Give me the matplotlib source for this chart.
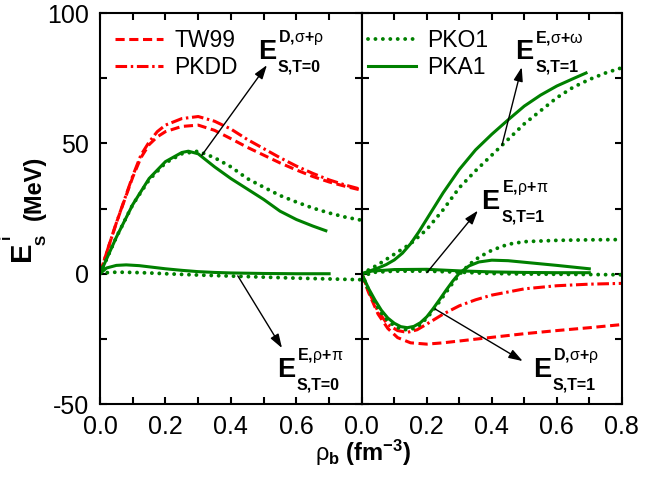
import numpy as np
import matplotlib
matplotlib.use("Agg")
import matplotlib.pyplot as plt
from matplotlib.transforms import offset_copy

plt.rcParams['font.family'] = ['Liberation Sans', 'DejaVu Sans']
plt.rcParams['mathtext.fontset'] = 'custom'
plt.rcParams['mathtext.rm'] = 'Liberation Sans'
plt.rcParams['mathtext.bf'] = 'Liberation Sans:bold'
plt.rcParams['mathtext.it'] = 'Liberation Sans:italic'
plt.rcParams['axes.linewidth'] = 1.5

RED = '#ff0000'
GREEN = '#008000'

# ---- left panel, T=0 ----
x_red_d0 = [0, 0.02, 0.05, 0.1, 0.125, 0.15, 0.175, 0.2, 0.25, 0.3, 0.35, 0.4, 0.45, 0.5, 0.55,
            0.6, 0.65, 0.7, 0.75, 0.8]
tw99_d0 = [0, 8, 19.5, 37, 44.5, 49.5, 52.5, 54.5, 56.5, 57, 55, 51.8, 48.5, 45.5, 42.5,
           39.8, 37.3, 35.2, 33.5, 32]
pkdd_d0 = [0, 8, 19.5, 37.5, 45.5, 50.5, 54.5, 57, 59.5, 60.3, 58.5, 55.5, 51.5, 48, 44.5,
           41.3, 38.5, 36, 34, 32.3]
x_pko1_d0 = [0, 0.02, 0.05, 0.1, 0.15, 0.2, 0.25, 0.3, 0.35, 0.4, 0.45, 0.5, 0.55, 0.6, 0.65, 0.7, 0.75, 0.8]
pko1_d0 = [0, 5.5, 14, 26.5, 36, 42.5, 46, 47, 44.5, 41, 36.5, 33.2, 30, 27.5, 25.2, 23.3, 21.7, 20.5]
x_pka1_d0 = [0, 0.05, 0.1, 0.15, 0.2, 0.25, 0.27, 0.3, 0.35, 0.4, 0.45, 0.5, 0.55, 0.6, 0.65, 0.69]
pka1_d0 = [0, 14, 26.5, 36.5, 43, 46.5, 47, 46, 41, 36.5, 32.5, 28.5, 24, 20.8, 18.3, 16.5]

x_pka1_e0 = [0, 0.02, 0.05, 0.08, 0.12, 0.16, 0.2, 0.25, 0.3, 0.35, 0.4, 0.5, 0.6, 0.7]
pka1_e0 = [0, 2.2, 3.2, 3.4, 3.1, 2.5, 1.9, 1.3, 0.8, 0.5, 0.3, 0.1, 0, 0]
x_pko1_e0 = [0, 0.02, 0.05, 0.1, 0.15, 0.2, 0.3, 0.4, 0.5, 0.6, 0.7, 0.8]
pko1_e0 = [0, 0.4, 0.6, 0.5, 0.3, 0, -0.5, -0.9, -1.3, -1.7, -2, -2.3]

# ---- right panel, T=1 ----
x_pka1_so = [0, 0.05, 0.075, 0.1, 0.125, 0.15, 0.175, 0.2, 0.25, 0.3, 0.35, 0.4, 0.45, 0.5, 0.55,
             0.6, 0.65, 0.69]
pka1_so = [0, 2.2, 3.5, 5.3, 7.9, 11.5, 16, 21, 31, 40, 47.5, 53.5, 59, 64.3, 68.5, 72, 74.8, 77]
x_pko1_so = [0, 0.05, 0.1, 0.15, 0.2, 0.25, 0.3, 0.35, 0.4, 0.45, 0.5, 0.55, 0.6, 0.65, 0.7, 0.75, 0.8]
pko1_so = [0, 3.5, 7.5, 11.5, 17, 24.5, 33, 39.5, 45.5, 51.5, 57.5, 62.5, 67.5, 71.5, 74.5, 77, 79]

x_pka1_e1 = [0, 0.03, 0.1, 0.2, 0.3, 0.4, 0.5, 0.6, 0.7]
pka1_e1 = [0, 1, 1.6, 1.7, 1.1, 0.7, 0.5, 0.4, 0.4]
x_pko1_e1 = [0, 0.03, 0.1, 0.2, 0.3, 0.4, 0.5, 0.6, 0.7, 0.8]
pko1_e1 = [-1.5, 0.5, 1, 1, 0.6, 0.1, -0.1, -0.2, -0.3, -0.4]

x_pka1_d1 = [0, 0.02, 0.04, 0.06, 0.08, 0.1, 0.12, 0.14, 0.16, 0.18, 0.2, 0.22, 0.24, 0.26, 0.28, 0.3,
             0.33, 0.36, 0.4, 0.45, 0.5, 0.6, 0.7]
pka1_d1 = [0, -5.5, -10, -14, -17, -19, -20.3, -20.7, -20.2, -18.8, -16.5, -13.3, -9.8, -6.2, -2.8, 0.2,
           3, 4.5, 5.2, 5, 4.4, 3.2, 1.9]
x_pko1_d1 = [0, 0.02, 0.04, 0.06, 0.08, 0.1, 0.12, 0.14, 0.16, 0.18, 0.2, 0.22, 0.24, 0.26, 0.28, 0.3,
             0.33, 0.36, 0.4, 0.45, 0.5, 0.6, 0.7, 0.8]
pko1_d1 = [0, -6, -11, -15, -18, -20, -21.2, -21.5, -21, -19.5, -17, -14, -10.5, -7, -3.5, -0.3,
           3.5, 6.3, 9, 11.3, 12.3, 12.8, 13, 13.1]

x_tw99_d1 = [0, 0.02, 0.05, 0.08, 0.11, 0.15, 0.2, 0.25, 0.3, 0.4, 0.5, 0.6, 0.7, 0.8]
tw99_d1 = [0, -7, -15.5, -21, -24.5, -26.5, -27, -26.5, -25.8, -24.4, -23, -21.8, -20.7, -19.5]
x_pkdd_d1 = [0, 0.02, 0.05, 0.08, 0.11, 0.14, 0.17, 0.2, 0.25, 0.3, 0.35, 0.4, 0.5, 0.6, 0.7, 0.8]
pkdd_d1 = [0, -6.5, -14.5, -19.5, -21.8, -22.5, -21.5, -19.3, -15.5, -12.3, -10, -8.2, -5.8, -4.6, -4, -3.7]

dash = dict(color=RED, lw=2.2, dashes=(3, 1.5))
dashdot = dict(color=RED, lw=2.2, dashes=(3.8, 1.2, 0.8, 1.2))
dot = dict(color=GREEN, lw=2.8, dashes=(0.01, 1.9), dash_capstyle='round')
solid = dict(color=GREEN, lw=2.2)

fig = plt.figure(figsize=(6.45, 4.91), dpi=100)
axL = fig.add_axes([0.155, 0.177, 0.406, 0.7965])
axR = fig.add_axes([0.561, 0.177, 0.403, 0.7965])

axL.plot(x_red_d0, tw99_d0, label='TW99', **dash)
axL.plot(x_red_d0, pkdd_d0, label='PKDD', **dashdot)
axL.plot(x_pko1_d0, pko1_d0, **dot)
axL.plot(x_pka1_d0, pka1_d0, **solid)
axL.plot(x_pko1_e0, pko1_e0, **dot)
axL.plot(x_pka1_e0, pka1_e0, **solid)

axR.plot(x_tw99_d1, tw99_d1, **dash)
axR.plot(x_pkdd_d1, pkdd_d1, **dashdot)
axR.plot(x_pko1_so, pko1_so, label='PKO1', **dot)
axR.plot(x_pka1_so, pka1_so, label='PKA1', **solid)
axR.plot(x_pko1_e1, pko1_e1, **dot)
axR.plot(x_pka1_e1, pka1_e1, **solid)
axR.plot(x_pko1_d1, pko1_d1, **dot)
axR.plot(x_pka1_d1, pka1_d1, **solid)

for ax in (axL, axR):
    ax.set_xlim(0, 0.8)
    ax.set_ylim(-50, 100)
    ax.set_yticks([-50, 0, 50, 100])
    ax.set_yticks([-25, 25, 75], minor=True)
    ax.tick_params(which='both', direction='in', top=True, right=True,
                   length=5, width=1.5, labelsize=18, pad=8)
axL.set_xticks([0, 0.2, 0.4, 0.6])
axL.set_xticks([0.1, 0.3, 0.5, 0.7], minor=True)
axL.set_xticklabels(['0.0', '0.2', '0.4', '0.6'])
axL.set_yticklabels(['-50', '0', '50', '100'])
axR.set_xticks([0, 0.2, 0.4, 0.6, 0.8])
axR.set_xticks([0.1, 0.3, 0.5, 0.7], minor=True)
axR.set_xticklabels(['0.0', '0.2', '0.4', '0.6', '0.8'])
axR.set_yticklabels([])

legkw = dict(loc='upper left', frameon=False, fontsize=16.5, borderaxespad=0, borderpad=0,
             handlelength=2.1, handletextpad=0.5, labelspacing=0.2)
axL.legend(bbox_to_anchor=(0.057, 0.96), **legkw)
axR.legend(bbox_to_anchor=(0.023, 0.96), **legkw)

arrow = dict(arrowstyle='-|>,head_length=0.6,head_width=0.2', color='k', lw=1.0,
             mutation_scale=14, shrinkA=0, shrinkB=0)
axL.annotate('', xy=(0.51, 80), xytext=(0.311, 45.4), arrowprops=arrow)
axL.annotate('', xy=(0.556, -28.5), xytext=(0.421, -0.8), arrowprops=arrow)
axR.annotate('', xy=(0.492, 79.2), xytext=(0.431, 49.2), arrowprops=arrow)
axR.annotate('', xy=(0.357, 24.2), xytext=(0.2, 0.4), arrowprops=arrow)
axR.annotate('', xy=(0.495, -33.5), xytext=(0.225, -13.5), arrowprops=arrow)


def elabel(ax, x, y, sup, sub):
    ax.text(x, y, 'E', fontsize=19.5, fontweight='bold', ha='left', va='baseline')
    t1 = offset_copy(ax.transData, fig=fig, x=14.5, y=12.3, units='points')
    ax.text(x, y, sup, transform=t1, fontsize=11.5, ha='left', va='baseline')
    t2 = offset_copy(ax.transData, fig=fig, x=14.5, y=-9, units='points')
    ax.text(x, y, sub, transform=t2, fontsize=11.5, fontweight='bold', ha='left', va='baseline')


elabel(axL, 0.482, 82.2, r'$\mathbf{D,}\!\mathrm{\sigma}\mathbf{+}\mathrm{\rho}$', 'S,T=0')
elabel(axL, 0.54, -39.8, r'$\mathbf{E,}\!\mathrm{\rho}\mathbf{+}\mathrm{\pi}$', 'S,T=0')
elabel(axR, 0.471, 82.3, r'$\mathbf{E,}\!\mathrm{\sigma}\mathbf{+}\mathrm{\omega}$', 'S,T=1')
elabel(axR, 0.368, 24.9, r'$\mathbf{E,}\!\mathrm{\rho}\mathbf{+}\mathrm{\pi}$', 'S,T=1')
elabel(axR, 0.526, -39.8, r'$\mathbf{D,}\!\mathrm{\sigma}\mathbf{+}\mathrm{\rho}$', 'S,T=1')

# y label built from pieces (big E, small scripts)
fig.text(0.034, 0.489, 'E', rotation=90, fontsize=21, fontweight='bold', ha='center', va='center')
fig.text(0.0095, 0.518, 'i', rotation=90, fontsize=11, fontweight='bold', ha='center', va='center')
fig.text(0.064, 0.512, 'S', rotation=90, fontsize=11, fontweight='bold', ha='center', va='center')
fig.text(0.054, 0.617, '(MeV)', rotation=90, fontsize=17, fontweight='bold', ha='center', va='center')

# x label
fig.text(0.563, 0.077, r'$\mathrm{\rho}_{\mathbf{b}}\ \mathbf{(fm}^{\mathbf{-3}}\mathbf{)}$',
         fontsize=17, ha='center', va='center')

fig.savefig('out.png', dpi=100)
